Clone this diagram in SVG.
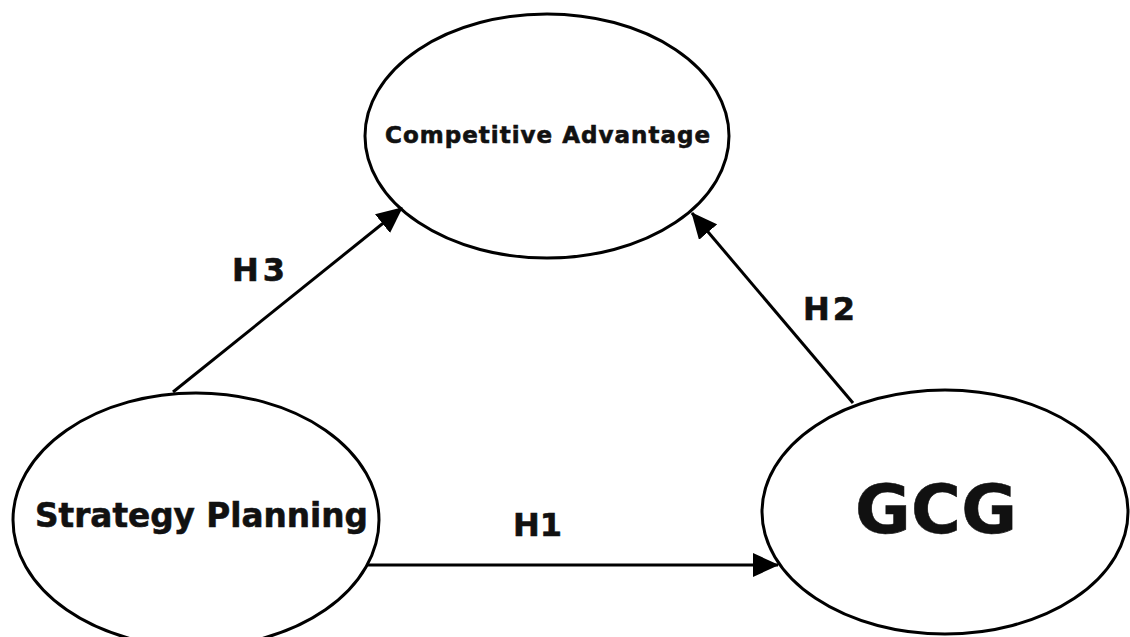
<svg xmlns="http://www.w3.org/2000/svg" width="1130" height="637" viewBox="0 0 1130 637">
  <style>
    .node { fill: #ffffff; stroke: #000000; stroke-width: 3; }
    .lbl { font-family: "DejaVu Sans", "Liberation Sans", Arial, sans-serif; font-weight: bold; fill: #111111; stroke: #111111; stroke-width: 0.6; }
    .edge { stroke: #000000; stroke-width: 3; fill: none; marker-end: url(#arrow); }
  </style>
  <defs>
    <marker id="arrow" markerUnits="userSpaceOnUse" markerWidth="26" markerHeight="24" refX="25" refY="12" orient="auto" viewBox="0 0 26 24">
      <path d="M0,0 L26,12 L0,24 Z" fill="#000000"/>
    </marker>
  </defs>
  <rect x="0" y="0" width="1130" height="637" fill="#ffffff"/>
  <g id="node-competitive-advantage">
    <ellipse class="node" cx="547" cy="136" rx="182" ry="122"/>
    <text class="lbl" x="385" y="143" font-size="23" textLength="325" lengthAdjust="spacing">Competitive Advantage</text>
  </g>
  <g id="node-strategy-planning">
    <ellipse class="node" cx="196" cy="520" rx="183" ry="127"/>
    <text class="lbl" x="35" y="527" font-size="33" textLength="333" lengthAdjust="spacingAndGlyphs">Strategy Planning</text>
  </g>
  <g id="node-gcg">
    <ellipse class="node" cx="945" cy="512" rx="183" ry="122"/>
    <text class="lbl" x="855" y="533" font-size="68" textLength="162" lengthAdjust="spacing">GCG</text>
  </g>
  <g id="connectors">
    <line class="edge" x1="173" y1="392" x2="402" y2="208"/>
    <line class="edge" x1="853" y1="403" x2="692" y2="213"/>
    <line class="edge" x1="367" y1="565" x2="778" y2="565"/>
    <text class="lbl" x="232" y="281" font-size="32" textLength="53" lengthAdjust="spacing">H3</text>
    <text class="lbl" x="803" y="320" font-size="32" textLength="52" lengthAdjust="spacing">H2</text>
    <text class="lbl" x="513" y="536" font-size="32" textLength="49" lengthAdjust="spacing">H1</text>
  </g>
</svg>
